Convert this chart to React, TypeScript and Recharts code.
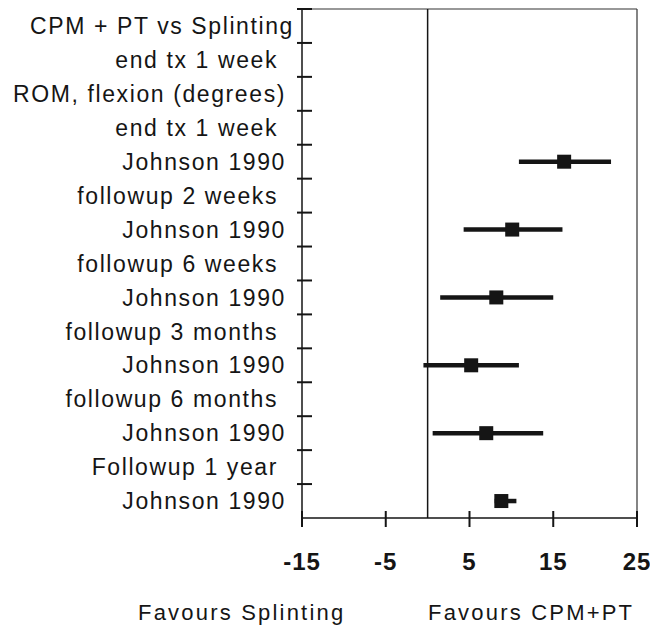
import React from 'react';
import { ScatterChart, Scatter, XAxis, YAxis, ReferenceLine } from 'recharts';

// Row labels, top to bottom (trailing no-break spaces keep the original padding)
const rowLabels: string[] = [
  'CPM + PT vs Splinting',
  'end tx 1 week\u00A0\u00A0',
  'ROM, flexion (degrees)\u00A0',
  'end tx 1 week\u00A0\u00A0',
  'Johnson 1990\u00A0',
  'followup 2 weeks\u00A0\u00A0',
  'Johnson 1990\u00A0',
  'followup 6 weeks\u00A0\u00A0',
  'Johnson 1990\u00A0',
  'followup 3 months\u00A0\u00A0',
  'Johnson 1990\u00A0',
  'followup 6 months\u00A0\u00A0',
  'Johnson 1990\u00A0',
  'Followup 1 year\u00A0\u00A0',
  'Johnson 1990\u00A0',
];

// Study rows (index into rowLabels) with mean difference and 95% CI
const studyRows: number[] = [4, 6, 8, 10, 12, 14];
const estimates: number[] = [16.3, 10.1, 8.2, 5.2, 7.0, 8.8];
const lowerCI: number[] = [10.9, 4.3, 1.5, -0.5, 0.6, 8.0];
const upperCI: number[] = [21.9, 16.1, 15.0, 10.9, 13.8, 10.6];

const xTicks: number[] = [-15, -5, 5, 15, 25];
const xDomain: [number, number] = [-15, 25];
const rowCount = rowLabels.length;

// y ticks: row boundaries (integers, drawn as marks) and row centres (labels)
const yTicks: number[] = rowLabels.flatMap((_, i) => [i, i + 0.5]);

const points = studyRows.map((r, i) => ({ x: estimates[i], y: r + 0.5 }));

const FONT = '"Liberation Sans", Arial, Helvetica, sans-serif';
const INK = '#151515';
const BOX = 14;

const YTick = (props: any) => {
  const { x, y, payload } = props;
  const v = payload.value as number;
  if (Number.isInteger(v)) {
    return <line x1={x - 5} x2={x + 10} y1={y} y2={y} stroke={INK} strokeWidth={2} />;
  }
  return (
    <text
      x={x - 8}
      y={y}
      dy="0.355em"
      textAnchor="end"
      fontFamily={FONT}
      fontSize={23}
      letterSpacing={1.6}
      fill={INK}
    >
      {rowLabels[Math.floor(v)]}
    </text>
  );
};

// tick mark crossing the horizontal axis, with its value below
const XTick = (props: any) => {
  const { x, y, payload } = props;
  return (
    <g>
      <line x1={x} x2={x} y1={y - 7} y2={y + 9} stroke={INK} strokeWidth={2} />
      <text
        x={x}
        y={y + 35}
        dy="0.71em"
        textAnchor="middle"
        fontFamily={FONT}
        fontSize={24}
        fontWeight="bold"
        letterSpacing={1}
        fill={INK}
      >
        {payload.value}
      </text>
    </g>
  );
};

const SquareMarker = (props: any) => {
  const { cx, cy } = props;
  if (cx == null || cy == null) return null;
  return <rect x={cx - BOX / 2} y={cy - BOX / 2} width={BOX} height={BOX} fill={INK} />;
};

const footStyle: React.CSSProperties = {
  position: 'absolute',
  top: 602,
  fontFamily: FONT,
  fontSize: 22,
  lineHeight: '22px',
  letterSpacing: 2.2,
  color: INK,
  whiteSpace: 'nowrap',
};

export default function App() {
  return (
    <div style={{ position: 'absolute', left: 0, top: 0, width: 650, height: 630, background: '#fff' }}>
      <ScatterChart
        width={650}
        height={630}
        margin={{ top: 9, right: 13, bottom: 111, left: 301 }}
      >
        <XAxis
          xAxisId="main"
          type="number"
          dataKey="x"
          domain={xDomain}
          ticks={xTicks}
          interval={0}
          height={1}
          tickSize={0}
          tickMargin={0}
          tick={<XTick />}
          axisLine={{ stroke: INK, strokeWidth: 1.5 }}
          tickLine={false}
        />
        <YAxis
          yAxisId="rows"
          type="number"
          dataKey="y"
          domain={[0, rowCount]}
          reversed
          ticks={yTicks}
          interval={0}
          width={1}
          tickSize={0}
          tickMargin={0}
          tick={<YTick />}
          axisLine={{ stroke: INK, strokeWidth: 1.5 }}
          tickLine={false}
        />

        {/* plot frame: top and right edges */}
        <ReferenceLine xAxisId="main" yAxisId="rows" y={0} stroke="#333" strokeWidth={1.2} />
        <ReferenceLine xAxisId="main" yAxisId="rows" x={25} stroke="#333" strokeWidth={1.2} />
        {/* line of no effect */}
        <ReferenceLine xAxisId="main" yAxisId="rows" x={0} stroke={INK} strokeWidth={1.5} />

        {/* confidence intervals */}
        {studyRows.map((r, i) => (
          <ReferenceLine
            key={`ci-${i}`}
            xAxisId="main"
            yAxisId="rows"
            segment={[
              { x: lowerCI[i], y: r + 0.5 },
              { x: upperCI[i], y: r + 0.5 },
            ]}
            stroke={INK}
            strokeWidth={4.5}
          />
        ))}

        <Scatter
          xAxisId="main"
          yAxisId="rows"
          data={points}
          shape={<SquareMarker />}
          fill={INK}
          isAnimationActive={false}
        />
      </ScatterChart>

      <div style={{ ...footStyle, left: 138 }}>Favours Splinting</div>
      <div style={{ ...footStyle, left: 428 }}>Favours CPM+PT</div>
    </div>
  );
}
